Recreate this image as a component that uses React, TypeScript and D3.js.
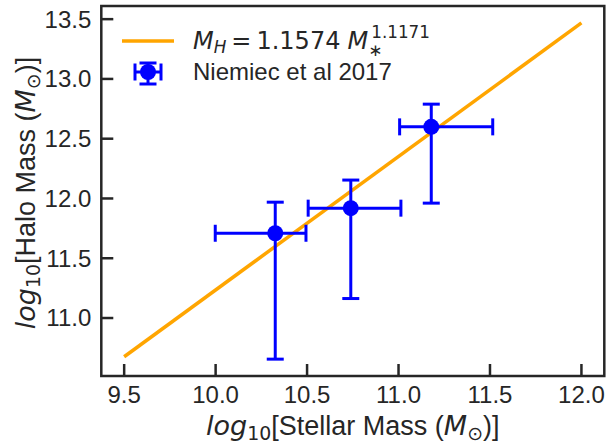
import React from "react";
import * as d3 from "d3";

const W = 608;
const H = 443;

// Observational points (Niemiec et al 2017)
const logMstar = [10.326, 10.739, 11.179];
const logMstarLo = [9.998, 10.506, 11.006];
const logMstarHi = [10.494, 11.013, 11.515];
const logMhalo = [11.709, 11.919, 12.599];
const logMhaloLo = [10.656, 11.163, 11.961];
const logMhaloHi = [11.969, 12.154, 12.789];

// Fit line endpoints (log10 M*)
const fitX = [9.5, 12.0];
const fitA = 1.1574;
const fitB = 1.1171;

const xTicks = [9.5, 10.0, 10.5, 11.0, 11.5, 12.0];
const yTicks = [11.0, 11.5, 12.0, 12.5, 13.0, 13.5];

const xDomain = [9.375, 12.125];
const yDomain = [10.515, 13.61];

const FONT = "'Liberation Sans', Arial, sans-serif";
const MATH = "'DejaVu Sans', sans-serif";
const DARK = "#262626";

function AxisLabel({ word }: { word: string }) {
  const fs = 27;
  const sfs = 18.9;
  return (
    <>
      <tspan fontFamily={MATH} fontStyle="italic">log</tspan>
      <tspan fontFamily={MATH} fontSize={sfs} dy={5}>10</tspan>
      <tspan fontFamily={FONT} fontSize={fs} dy={-5}>{`[${word} Mass (`}</tspan>
      <tspan fontFamily={MATH} fontStyle="italic">M</tspan>
      <tspan fontFamily={MATH} fontSize={sfs} dy={5}>⊙</tspan>
      <tspan fontFamily={FONT} dy={-5}>)]</tspan>
    </>
  );
}

export default function App() {
  const left = 101.3;
  const right = 604.3;
  const top = 6;
  const bottom = 376;
  const x = d3.scaleLinear().domain(xDomain).range([left, right]);
  const y = d3.scaleLinear().domain(yDomain).range([bottom, top]);

  const fitPts = fitX.map((v) => [v, Math.log10(fitA) + fitB * v] as [number, number]);
  const line = d3
    .line<[number, number]>()
    .x((d) => x(d[0]))
    .y((d) => y(d[1]));

  const cap = 8.5;
  const blue = "#0000FF";
  const orange = "#FFA500";
  const fs = 24;

  return (
    <svg width={W} height={H} style={{ position: "absolute", left: 0, top: 0, background: "#fff" }} fontFamily={FONT}>
      <defs>
        <clipPath id="clip">
          <rect x={left} y={top} width={right - left} height={bottom - top} />
        </clipPath>
      </defs>
      <rect x={0} y={0} width={W} height={H} fill="#fff" />
      {/* fit line */}
      <path d={line(fitPts) || ""} stroke={orange} strokeWidth={3.5} fill="none" clipPath="url(#clip)" />
      {/* error bars */}
      {logMstar.map((mx, i) => {
        const cx = x(mx);
        const cy = y(logMhalo[i]);
        const x0 = x(logMstarLo[i]);
        const x1 = x(logMstarHi[i]);
        const y0 = y(logMhaloLo[i]);
        const y1 = y(logMhaloHi[i]);
        return (
          <g key={i} stroke={blue} strokeWidth={3}>
            <line x1={x0} x2={x1} y1={cy} y2={cy} />
            <line x1={cx} x2={cx} y1={y0} y2={y1} />
            <line x1={x0} x2={x0} y1={cy - cap} y2={cy + cap} />
            <line x1={x1} x2={x1} y1={cy - cap} y2={cy + cap} />
            <line x1={cx - cap} x2={cx + cap} y1={y0} y2={y0} />
            <line x1={cx - cap} x2={cx + cap} y1={y1} y2={y1} />
            <circle cx={cx} cy={cy} r={8} fill={blue} stroke="none" />
          </g>
        );
      })}
      {/* ticks */}
      {xTicks.map((t) => (
        <g key={"x" + t}>
          <line x1={x(t)} x2={x(t)} y1={bottom} y2={bottom - 12} stroke={DARK} strokeWidth={2.5} />
          <text x={x(t)} y={bottom + 27} fontSize={fs} textAnchor="middle" fill={DARK}>
            {t.toFixed(1)}
          </text>
        </g>
      ))}
      {yTicks.map((t) => (
        <g key={"y" + t}>
          <line x1={left} x2={left + 12} y1={y(t)} y2={y(t)} stroke={DARK} strokeWidth={2.5} />
          <text x={left - 10} y={y(t)} dy="0.35em" fontSize={fs} textAnchor="end" fill={DARK}>
            {t.toFixed(1)}
          </text>
        </g>
      ))}
      {/* spines */}
      <rect x={left} y={top} width={right - left} height={bottom - top} fill="none" stroke={DARK} strokeWidth={2.5} />
      {/* x label */}
      <text x={(left + right) / 2} y={435} fontSize={27} textAnchor="middle" fill={DARK}>
        <AxisLabel word="Stellar" />
      </text>
      {/* y label */}
      <text
        transform={`translate(35, ${(top + bottom) / 2 + 2}) rotate(-90)`}
        fontSize={27}
        textAnchor="middle"
        fill={DARK}
      >
        <AxisLabel word="Halo" />
      </text>
      {/* legend */}
      <line x1={122} x2={174} y1={41} y2={41} stroke={orange} strokeWidth={3.5} />
      <text x={193} y={49} fontSize={24} fontFamily={MATH} fill={DARK}>
        <tspan fontStyle="italic">M</tspan>
        <tspan fontStyle="italic" fontSize={16.8} dy={4}>H</tspan>
        <tspan dx={5} dy={-4}>=</tspan>
        <tspan dx={5}>1.1574</tspan>
        <tspan dx={7} fontStyle="italic">M</tspan>
        <tspan fontSize={16.8} dy={7}>∗</tspan>
        <tspan fontSize={16.8} dx={-11} dy={-18}>1.1171</tspan>
      </text>
      <g stroke={blue} strokeWidth={3}>
        <line x1={135} x2={161} y1={72} y2={72} />
        <line x1={148} x2={148} y1={63} y2={84} />
        <line x1={135} x2={135} y1={72 - cap} y2={72 + cap} />
        <line x1={161} x2={161} y1={72 - cap} y2={72 + cap} />
        <line x1={148 - cap} x2={148 + cap} y1={63} y2={63} />
        <line x1={148 - cap} x2={148 + cap} y1={84} y2={84} />
        <circle cx={148} cy={72} r={8} fill={blue} stroke="none" />
      </g>
      <text x={193} y={80} fontSize={fs} fill={DARK}>
        Niemiec et al 2017
      </text>
    </svg>
  );
}
